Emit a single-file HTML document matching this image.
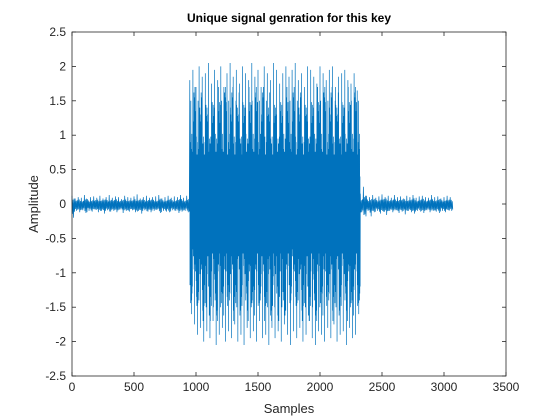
<!DOCTYPE html>
<html><head><meta charset="utf-8">
<style>
html,body{margin:0;padding:0;background:#fff;}
svg{display:block;font-family:"Liberation Sans",Arial,sans-serif;}
</style></head>
<body>
<svg id="chart" width="560" height="420" viewBox="0 0 560 420">
<rect x="0" y="0" width="560" height="420" fill="#fff"/>
<rect x="72" y="32" width="434" height="344" fill="#fff"/>
<g id="ticks"></g>
<g id="series"></g>
<rect x="72" y="32" width="434" height="344" fill="none" stroke="#262626" stroke-width="0.8"/>
<text x="289" y="22" text-anchor="middle" font-size="12" font-weight="bold" fill="#000">Unique signal genration for this key</text>
<text x="289" y="413" text-anchor="middle" font-size="13" fill="#262626">Samples</text>
<text x="38" y="204" text-anchor="middle" font-size="13" fill="#262626" transform="rotate(-90 38 204)">Amplitude</text>
</svg>
<script>
const xTicks=[0,500,1000,1500,2000,2500,3000,3500];
const yTicks=[-2.5,-2,-1.5,-1,-0.5,0,0.5,1,1.5,2,2.5];
const binSize=25;
const upperPeaks=[0.12,0.08,0.1,0.09,0.13,0.07,0.1,0.11,0.09,0.12,0.08,0.1,0.13,0.09,0.11,0.1,0.07,0.12,0.1,0.09,0.11,0.14,0.08,0.1,0.12,0.09,0.1,0.11,0.13,0.08,0.1,0.12,0.09,0.11,0.1,0.13,0.09,0.12,
1.8,1.95,1.7,2.0,1.85,1.9,2.05,1.75,1.95,1.8,2.0,1.7,1.9,2.05,1.85,1.95,1.75,2.0,1.9,1.8,2.05,1.85,1.95,1.7,2.0,1.9,1.8,2.05,1.95,1.75,1.9,2.0,1.85,1.95,2.05,1.8,1.9,1.7,2.0,1.95,1.85,1.75,2.0,1.9,1.8,1.95,2.0,1.7,1.85,1.9,1.95,1.8,1.75,1.9,1.65,
0.15,0.25,0.12,0.1,0.13,0.09,0.11,0.14,0.1,0.12,0.09,0.13,0.1,0.11,0.08,0.12,0.1,0.13,0.09,0.11,0.12,0.1,0.09,0.13,0.1,0.11,0.08,0.1,0.12,0.1];
const lowerPeaks=[-0.2,-0.1,-0.12,-0.09,-0.13,-0.1,-0.11,-0.08,-0.12,-0.1,-0.14,-0.09,-0.11,-0.1,-0.12,-0.08,-0.13,-0.1,-0.11,-0.09,-0.12,-0.1,-0.14,-0.09,-0.11,-0.12,-0.1,-0.08,-0.13,-0.1,-0.11,-0.12,-0.09,-0.1,-0.13,-0.11,-0.1,-0.12,
-1.6,-1.75,-1.9,-1.8,-2.0,-1.85,-1.95,-1.7,-2.05,-1.9,-1.8,-2.0,-1.85,-1.95,-1.75,-2.0,-1.9,-2.05,-1.8,-1.95,-1.85,-2.0,-1.7,-1.95,-1.9,-2.05,-1.8,-1.95,-1.85,-2.0,-1.75,-1.9,-2.05,-1.85,-1.95,-1.8,-2.0,-1.9,-1.7,-1.95,-2.05,-1.85,-1.9,-2.0,-1.8,-1.95,-1.75,-2.0,-1.9,-1.85,-2.05,-1.8,-1.95,-1.9,-1.6,
-0.12,-0.15,-0.1,-0.18,-0.12,-0.1,-0.14,-0.11,-0.16,-0.1,-0.12,-0.09,-0.13,-0.11,-0.15,-0.1,-0.12,-0.14,-0.1,-0.11,-0.13,-0.09,-0.12,-0.1,-0.11,-0.13,-0.1,-0.12,-0.09,-0.1];
const burstShape=[0.55,1.35,0.8,1.62,0.45,1.1,0.95,1.48,0.62,1.25,0.72,1.4,0.5,1.18,1.02,1.55,0.68,1.3,0.88,1.05,0.4,1.7,0.9,1.2,0.58,1.44,0.76,1.12,1.5,0.66,0.98,1.28];
const noiseShape=[0.6,0.9,0.4,0.8,0.5,0.7];

const X0=72,X1=506,Y0=376,Y1=32;
function xs(v){return X0+(v-0)/(3500-0)*(X1-X0);}
function ys(v){return Y0-(v+2.5)/5*(Y0-Y1);}
const NS="http://www.w3.org/2000/svg";
const tg=document.getElementById('ticks');
xTicks.forEach(t=>{
  const px=xs(t);
  const l=document.createElementNS(NS,'line');
  l.setAttribute('x1',px);l.setAttribute('x2',px);l.setAttribute('y1',Y0);l.setAttribute('y2',Y0-4);
  l.setAttribute('stroke','#262626');l.setAttribute('stroke-width','0.8');
  
  
  tg.appendChild(l);
  const l2=document.createElementNS(NS,'line');
  l2.setAttribute('x1',px);l2.setAttribute('x2',px);l2.setAttribute('y1',Y1);l2.setAttribute('y2',Y1+4);
  l2.setAttribute('stroke','#262626');l2.setAttribute('stroke-width','0.8');
  
  
  tg.appendChild(l2);
  const tx=document.createElementNS(NS,'text');
  tx.setAttribute('x',px);tx.setAttribute('y',Y0+15);tx.setAttribute('text-anchor','middle');
  tx.setAttribute('font-size','12');tx.setAttribute('fill','#262626');
  
  
  tx.textContent=t;tg.appendChild(tx);
});
yTicks.forEach(t=>{
  const py=ys(t);
  const l=document.createElementNS(NS,'line');
  l.setAttribute('x1',X0);l.setAttribute('x2',X0+4);l.setAttribute('y1',py);l.setAttribute('y2',py);
  l.setAttribute('stroke','#262626');l.setAttribute('stroke-width','0.8');
  
  
  tg.appendChild(l);
  const l2=document.createElementNS(NS,'line');
  l2.setAttribute('x1',X1);l2.setAttribute('x2',X1-4);l2.setAttribute('y1',py);l2.setAttribute('y2',py);
  l2.setAttribute('stroke','#262626');l2.setAttribute('stroke-width','0.8');
  
  
  tg.appendChild(l2);
  const tx=document.createElementNS(NS,'text');
  tx.setAttribute('x',X0-6);tx.setAttribute('y',py+4);tx.setAttribute('text-anchor','end');
  tx.setAttribute('font-size','12');tx.setAttribute('fill','#262626');
  
  
  tx.textContent=t;tg.appendChild(tx);
});
let pts=[];
for(let i=0;i<upperPeaks.length;i++){
  const s=i*binSize, up=upperPeaks[i], lo=lowerPeaks[i];
  const big=Math.abs(up)>0.5;
  const steps=big?18:6;
  for(let k=0;k<steps;k++){
    const sx=s+k*binSize/steps;
    let v;
    if(k===0)v=up; else if(k===Math.floor(steps/2))v=lo;
    else if(big){
      v=(k%2?-1:1)*burstShape[(k*3+i*7)%burstShape.length];
    } else {
      const m=(up-lo)/2;
      v=(k%2?-1:1)*m*noiseShape[(k+i*2)%noiseShape.length];
    }
    pts.push(xs(sx).toFixed(2)+','+ys(v).toFixed(2));
  }
}
const pl=document.createElementNS(NS,'polyline');
pl.setAttribute('points',pts.join(' '));
pl.setAttribute('fill','none');pl.setAttribute('stroke','#0072BD');pl.setAttribute('stroke-width','0.7');


document.getElementById('series').appendChild(pl);
</script>
</body></html>
